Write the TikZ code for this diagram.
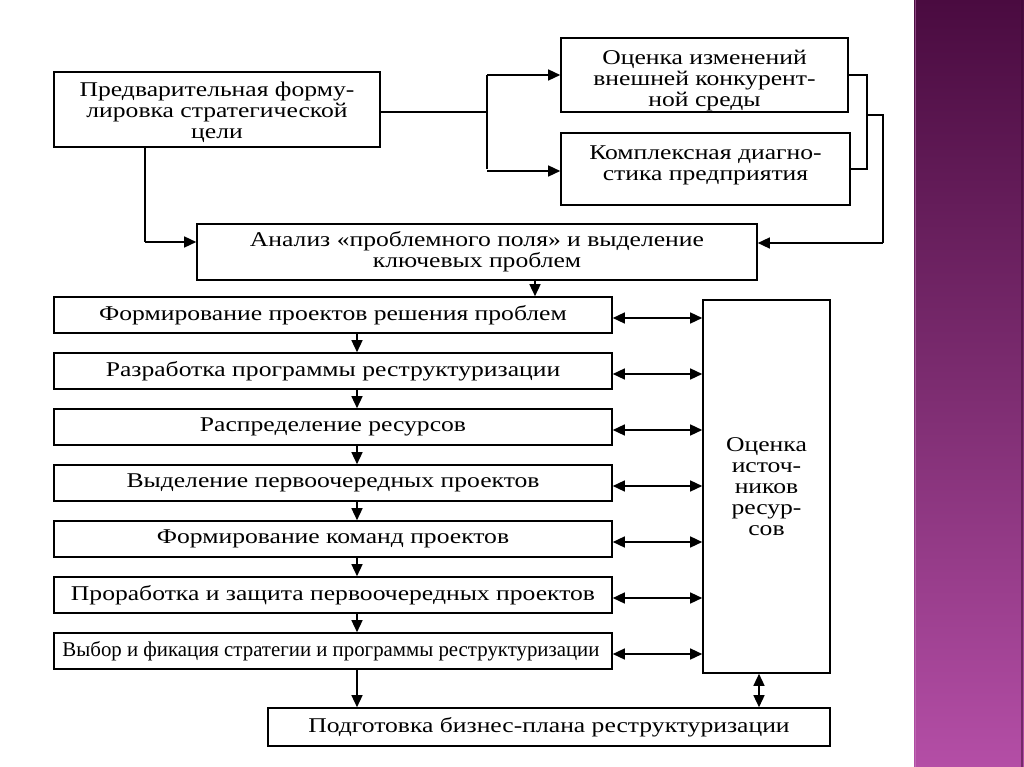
\documentclass[tikz,border=0pt]{standalone}
\usepackage{fontspec}
\setmainfont{Liberation Serif}[FakeStretch=1.22]
\usetikzlibrary{arrows.meta}
\definecolor{ptop}{HTML}{4A0B40}
\definecolor{pmid}{HTML}{7C2C70}
\definecolor{pbot}{HTML}{B44EA6}
\begin{document}
\begin{tikzpicture}[x=1pt,y=-1pt,
  box/.style={draw, line width=1.6pt, rectangle, inner sep=0pt, align=center,
    font=\fontsize{21}{21}\selectfont},
  lnk/.style={line width=1.4pt},
  arr/.style={line width=1.4pt, -{Triangle[length=12pt,width=11pt]}},
  darr/.style={line width=1.4pt, {Triangle[length=12pt,width=11pt]}-{Triangle[length=12pt,width=11pt]}}]
\useasboundingbox (0,0) rectangle (1024,767);
\fill[white] (0,0) rectangle (1024,767);
% purple side strip
\shade[top color=ptop, bottom color=pbot, middle color=pmid] (914,0) rectangle (1024,767);
\draw[line width=1pt, pbot!70!white, opacity=0.5] (915,0) -- (915,767);
\draw[line width=2pt, ptop!80!black, opacity=0.5] (1022,0) -- (1022,767);

% top boxes
\node[box, minimum width=326pt, minimum height=75pt, text height=62pt] (b1) at (217,109.5)
  {Предварительная форму-\\лировка стратегической\\цели};
\node[box, minimum width=287pt, minimum height=74pt, text height=67pt] (b2) at (704.5,75)
  {Оценка изменений\\внешней конкурент-\\ной среды};
\node[box, minimum width=289pt, minimum height=72pt, text depth=12pt] (b3) at (705.5,169)
  {Комплексная диагно-\\стика предприятия};
\node[box, minimum width=560pt, minimum height=56pt] (b4) at (477,252)
  {Анализ «проблемного поля» и выделение\\ключевых проблем};

% left column
\node[box, minimum width=558pt, minimum height=36pt] (b5) at (333,315) {Формирование проектов решения проблем};
\node[box, minimum width=558pt, minimum height=36pt] (b6) at (333,371) {Разработка программы реструктуризации};
\node[box, minimum width=558pt, minimum height=36pt] (b7) at (333,427) {Распределение ресурсов};
\node[box, minimum width=558pt, minimum height=36pt] (b8) at (333,483) {Выделение первоочередных проектов};
\node[box, minimum width=558pt, minimum height=36pt] (b9) at (333,539) {Формирование команд проектов};
\node[box, minimum width=558pt, minimum height=36pt] (b10) at (333,595) {Проработка и защита первоочередных проектов};
\node[box, minimum width=558pt, minimum height=36pt] (b11) at (333,651)
  {\resizebox{537pt}{\height}{Выбор и фикация стратегии и программы реструктуризации}\hspace*{4pt}};

% right tall box
\node[box, minimum width=127pt, minimum height=373pt] (r) at (766.5,486.5)
  {Оценка\\источ-\\ников\\ресур-\\сов};

% bottom box
\node[box, minimum width=562pt, minimum height=38pt] (b12) at (549,727)
  {Подготовка бизнес-плана реструктуризации};

% helper coordinates
\coordinate (fork) at (487,112);
\coordinate (dn1) at (145,242);
\coordinate (brk) at (867,115);
\coordinate (fb) at (883,243);
\coordinate (cx) at (357,0);
\coordinate (cx2) at (535,0);
\coordinate (cx3) at (759,0);

% connectors top
\draw[lnk] (b1.east |- fork) -- (fork);
\draw[lnk] (fork |- b2.west) -- (fork |- b3.west);
\draw[arr] (fork |- b2.west) -- (b2.west);
\draw[arr] ([yshift=-2pt]fork |- b3.west) -- ([yshift=-2pt]b3.west);
\draw[lnk] (b1.south -| dn1) -- (dn1);
\draw[arr] (dn1) -- (b4.west |- dn1);
\draw[lnk] (b2.east) -- (brk |- b2.east) -- (brk |- b3.east) -- (b3.east);
\draw[lnk] (brk) -- (fb |- brk) -- (fb);
\draw[arr] (fb) -- (b4.east |- fb);

% vertical flow
\draw[arr] (b4.south -| cx2) -- (b5.north -| cx2);
\draw[arr] (b5.south -| cx) -- (b6.north -| cx);
\draw[arr] (b6.south -| cx) -- (b7.north -| cx);
\draw[arr] (b7.south -| cx) -- (b8.north -| cx);
\draw[arr] (b8.south -| cx) -- (b9.north -| cx);
\draw[arr] (b9.south -| cx) -- (b10.north -| cx);
\draw[arr] (b10.south -| cx) -- (b11.north -| cx);
\draw[arr] (b11.south -| cx) -- (b12.north -| cx);

% double arrows to resources box
\foreach \b in {b5,b6,b7,b8,b9,b10,b11}{
  \draw[darr] ([yshift=-3pt]\b.east) -- ([yshift=-3pt]r.west |- \b.east);
}
\draw[darr] (r.south -| cx3) -- (b12.north -| cx3);
\end{tikzpicture}
\end{document}
